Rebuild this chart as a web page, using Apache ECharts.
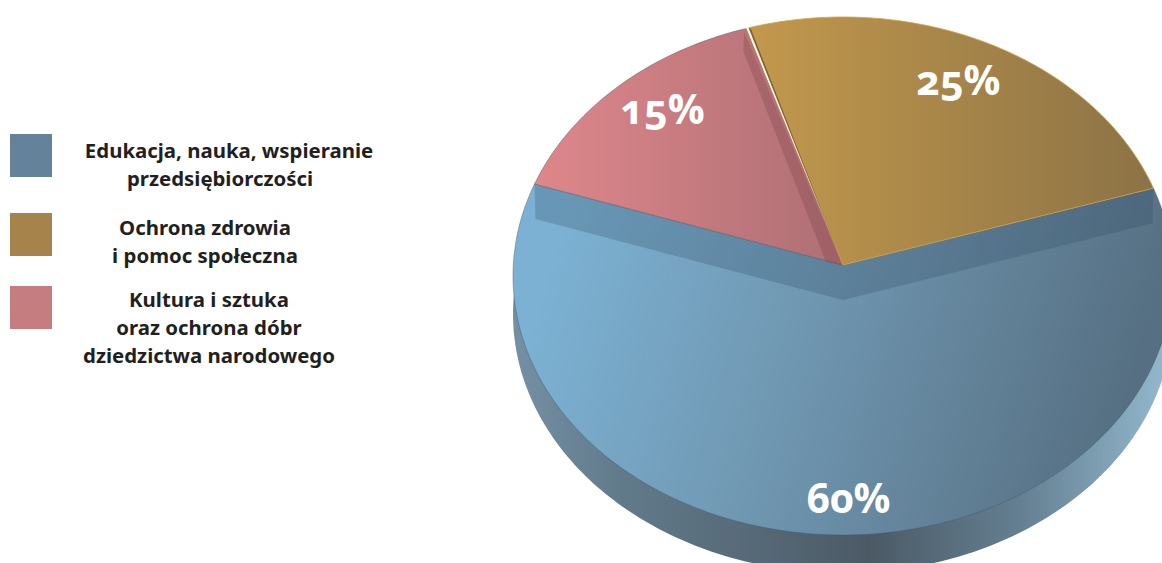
<!DOCTYPE html>
<html lang="pl"><head><meta charset="utf-8">
<style>
html,body{margin:0;padding:0;background:#fff}
#c{width:1162px;height:563px}
#c svg text{font-feature-settings:"onum" 1 !important;font-variant-numeric:oldstyle-nums !important}
</style>
<script src="https://cdn.jsdelivr.net/npm/echarts@6/dist/echarts.min.js"></script>
</head><body><div id="c"></div>
<script>
const categories = ['Edukacja, nauka, wspieranie\nprzedsiębiorczości', 'Ochrona zdrowia\ni pomoc społeczna', 'Kultura i sztuka\noraz ochrona dóbr\ndziedzictwa narodowego'];
const shares = [60, 25, 15];
const swatchColors = ['#64829a', '#a6834a', '#c67d80'];

const chart = echarts.init(document.getElementById('c'), null, {renderer:'svg', width:1162, height:563});

const apex = {x:843, y:265}, ell = {x:843, y:276, rx:330, ry:259}, depth = 38, k = ell.ry/ell.rx;
const START = 288.5;
function rim(deg, dy){
  const t = deg*Math.PI/180, dx = Math.sin(t), dv = -Math.cos(t);
  const v0 = (apex.y-ell.y)/ell.ry, pd = v0*dv;
  const s = -pd + Math.sqrt(pd*pd - v0*v0 + 1);
  return [ell.x + ell.rx*s*dx, ell.y + ell.ry*(v0 + s*dv) + (dy||0)];
}
function wedge(a0, a1, dy){
  const pts = [[apex.x, apex.y + (dy||0)]], n = Math.max(2, Math.ceil(Math.abs(a1-a0)));
  for (let i=0;i<=n;i++) pts.push(rim(a0+(a1-a0)*i/n, dy));
  return pts;
}
function grad(x0,y0,x1,y1,stops){
  return {type:'linear',global:true,x:x0,y:y0,x2:x1,y2:y1,colorStops:stops.map(c=>({offset:c[0],color:c[1]}))};
}
const faceFill = [
  grad(560,230,1130,400,[[0,'#7cb1d3'],[0.45,'#6f96b0'],[1,'#566f82']]),
  grad(750,150,1150,150,[[0,'#c2984c'],[1,'#8c7346']]),
  grad(535,150,845,150,[[0,'#de878b'],[1,'#ad6f74']])
];
const wallFill = grad(513,0,1162,0,[[0,'#7590a5'],[0.17,'#617a8a'],[0.55,'#4c5a66'],[0.78,'#647f91'],[1,'#92b6cc']]);
const edge = ['rgba(60,85,105,.5)','rgba(214,160,70,.8)','rgba(90,80,85,.55)'];

// slice angle ranges, running counter-clockwise from the lower-left boundary
const spans = []; let acc = START;
shares.forEach(v => { spans.push([acc, acc - v*3.6]); acc -= v*3.6; });
const labelPlace = [{r:295,dx:8,dy:0},{r:263,dx:-6,dy:-3},{r:266,dx:6,dy:-8}];

function poly(points, style, z2){ return {type:'polygon', shape:{points}, style, z2:z2||0, silent:true}; }

function renderSlice(params, api){
  const i = api.value(0), sp = spans[i], children = [];
  if (i===0){
    children.push(poly(wedge(sp[0], sp[1], depth), {fill:wallFill}, 1));
    children.push(poly(wedge(sp[0], sp[1]), {fill:faceFill[0], stroke:edge[0], lineWidth:0.8}, 2));
    // soft shadow cast by the other two slices onto the blue face
    const a = rim(sp[0]), b = rim(sp[1]);
    children.push(poly([[apex.x,apex.y],b,[b[0]-1,b[1]+35],[apex.x,apex.y+35],[a[0]+1,a[1]+35],a],{fill:'rgba(42,72,96,.25)'},3));
  } else if (i===1){
    children.push(poly(wedge(sp[0], sp[1]+0.2), {fill:faceFill[1], stroke:edge[1], lineWidth:1}, 6));
    const top = rim(sp[1]+0.2);
    children.push(poly([[apex.x,apex.y],[top[0],top[1]],[top[0]+2,top[1]+1]],{fill:'rgba(95,80,50,.8)'},7));
  } else {
    const a0 = sp[0]-0.5, top = rim(a0);
    children.push(poly(wedge(a0, sp[1]), {fill:faceFill[2], stroke:edge[2], lineWidth:0.8}, 4));
    children.push(poly([[apex.x,apex.y],[top[0],top[1]],[top[0]+1.2,top[1]-0.3]],{fill:'#cf6a58'},6));
    children.push(poly([[apex.x-1,apex.y],[top[0]-1,top[1]+3],[top[0]-2,top[1]+22],[apex.x-17,apex.y-3]],{fill:'rgba(120,60,65,.28)'},5));
  }
  const mid = (sp[0]+sp[1])/2, t = mid*Math.PI/180, L = labelPlace[i];
  children.push({type:'text', z2:10, silent:true, style:{
    text:api.value(1)+'%', x:apex.x+Math.sin(t)*L.r+L.dx, y:apex.y-Math.cos(t)*L.r*k+L.dy,
    fill:'#fff', font:'700 41px "Open Sans"', textAlign:'center', textVerticalAlign:'middle'
  }});
  return {type:'group', children};
}

const legendY = [134, 213, 286];
const legendCx = [229, 205, 209];
const graphics = [];
categories.forEach((c,i)=>{
  graphics.push({type:'rect', left:10, top:legendY[i], shape:{width:42,height:43}, style:{fill:swatchColors[i]}});
  c.split('\n').forEach((line,j)=>{
    const cx = legendCx[i] + (i===0 && j===1 ? -9 : 0);
    graphics.push({type:'text', x:cx, y:legendY[i]+16+j*28+(i===1?-2:(i===2?-3:0)), style:{text:line, fill:'#231f20', font:'700 20.4px "Noto Sans"', textAlign:'center', textVerticalAlign:'middle'}});
  });
});

chart.setOption({
  animation:false,
  backgroundColor:'#fff',
  graphic:graphics,
  series:[{type:'custom', coordinateSystem:'none', renderItem:renderSlice, clip:false,
    data:shares.map((v,i)=>({name:categories[i], value:[i,v]}))}]
});
</script></body></html>
